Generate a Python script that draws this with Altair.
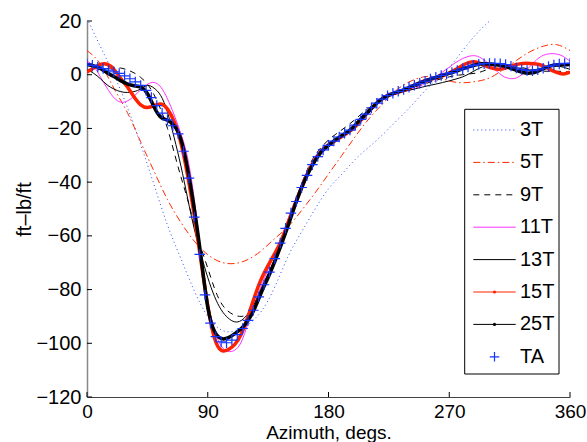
import altair as alt
import pandas as pd

FONT = "Liberation Sans"

# ---------------- data ----------------
AZ4 = list(range(0, 361, 4))
AZ5 = list(range(0, 361, 5))
AZ10 = list(range(0, 361, 10))

T3 = [21.0, 10.5, 0.0, -12.0, -26.0, -41.0, -56.0, -68.5, -80.5, -90.0,
      -95.0, -95.5, -93.0, -88.0, -79.0, -67.5, -58.5, -50.0, -42.5, -37.0,
      -31.5, -27.0, -22.5, -17.5, -12.5, -7.0, -2.0, 2.7, 9.0, 15.0,
      20.0, 24.0, 27.0, 28.0, 27.0, 24.5, 21.0]

T5 = [9.0, 4.0, -5.0, -14.0, -25.0, -36.0, -46.5, -55.0, -62.0, -67.0,
      -69.8, -70.3, -68.8, -65.5, -61.0, -56.5, -50.5, -44.0, -37.0, -30.0,
      -23.0, -16.5, -11.0, -6.0, -2.7, -0.9, -0.8, -2.3, -3.0, -2.5,
      -1.2, 1.8, 5.3, 8.5, 10.6, 11.2, 9.0]

T9 = [1.0, 1.5, 2.0, 2.4, 2.6, 2.5, 1.8, 0.7, -1.0, -3.5,
      -7.5, -13.0, -20.0, -29.0, -38.0, -46.5, -56.0, -64.5, -72.0, -79.5,
      -85.0, -88.0, -89.5, -90.0, -89.0, -86.0, -81.5, -75.5, -69.0, -62.0,
      -55.0, -47.5, -40.5, -34.5, -30.0, -26.8, -24.3, -22.3, -20.5, -18.6,
      -16.6, -14.4, -12.4, -10.6, -9.1, -7.9, -6.9, -6.1, -5.3, -4.5,
      -3.7, -2.9, -2.1, -1.4, -0.8, -0.3, 0.0, 0.3, 0.6, 1.3,
      2.3, 3.2, 3.8, 3.8, 3.3, 2.6, 2.0, 1.5, 1.3, 1.3,
      1.3, 1.2, 1.0]

T11 = [5.0, 3.2, -0.8, -5.0, -8.5, -10.2, -9.8, -8.0, -5.6, -3.6,
       -2.9, -4.6, -9.0, -15.0, -22.0, -31.0, -46.5, -66.5, -84.0, -95.0,
       -101.0, -103.0, -102.6, -99.5, -92.5, -85.0, -78.5, -72.5, -66.5, -60.5,
       -53.5, -47.0, -40.5, -35.0, -30.5, -27.5, -25.5, -24.0, -22.5, -21.0,
       -19.0, -16.5, -13.5, -10.5, -8.3, -7.0, -6.5, -6.3, -5.8, -5.0,
       -3.8, -2.3, -0.7, 1.0, 2.8, 4.6, 6.0, 6.9, 7.0, 5.8,
       3.8, 1.5, -0.5, -1.4, -1.2, 0.5, 3.0, 5.5, 7.2, 7.8,
       7.7, 6.8, 5.0]

T13 = [2.0, 0.5, -1.5, -3.8, -5.3, -6.3, -6.6, -6.3, -5.3, -4.0,
       -5.0, -7.8, -14.0, -23.5, -34.0, -46.0, -57.5, -67.0, -75.5, -82.5,
       -87.5, -90.5, -92.0, -91.5, -89.0, -85.0, -79.5, -74.0, -68.5, -62.5,
       -55.5, -48.5, -41.5, -36.0, -31.5, -28.5, -26.3, -24.5, -23.0, -21.3,
       -19.0, -16.3, -13.5, -11.0, -9.0, -7.8, -7.0, -6.4, -5.8, -5.2,
       -4.6, -4.0, -3.5, -2.9, -2.3, -1.6, -0.8, 0.4, 1.8, 3.0,
       3.8, 4.0, 3.8, 3.2, 2.6, 2.1, 1.8, 2.0, 2.5, 3.0,
       3.2, 2.8, 2.0]

T15 = [1.0, 2.5, 3.8, 3.9, 2.0, -1.3, -4.5, -8.2, -11.2, -12.2,
       -11.5, -10.9, -12.8, -17.5, -25.5, -37.5, -52.5, -69.5, -86.0, -98.0,
       -102.6, -102.4, -100.5, -96.5, -90.0, -82.5, -76.0, -71.0, -66.5, -61.5,
       -55.0, -48.3, -42.0, -36.2, -31.7, -28.3, -26.2, -24.6, -23.0, -21.4,
       -19.3, -16.5, -13.6, -11.0, -9.0, -7.6, -6.8, -6.0, -5.0, -3.7,
       -2.6, -1.8, -1.2, -0.4, 0.7, 2.0, 3.5, 4.6, 4.7, 3.8,
       2.7, 2.1, 2.2, 3.0, 3.8, 4.2, 4.2, 4.0, 3.3, 2.0,
       0.9, 0.3, 1.0]

T25 = [3.8, 3.3, 2.3, 0.7, -0.7, -2.2, -3.4, -4.1, -4.6, -7.0,
       -12.0, -15.8, -16.9, -19.0, -24.0, -35.0, -50.0, -68.0, -86.5, -95.5,
       -98.2, -98.0, -96.5, -94.5, -91.5, -87.0, -81.0, -75.5, -69.5, -63.0,
       -56.0, -48.7, -42.0, -36.5, -32.0, -28.5, -26.3, -24.3, -22.6, -21.0,
       -18.7, -16.0, -13.6, -11.0, -9.0, -7.6, -6.7, -5.8, -4.8, -3.7,
       -2.7, -1.8, -1.0, -0.2, 0.5, 1.3, 2.2, 3.0, 3.7, 4.1,
       4.0, 3.7, 3.3, 2.6, 1.6, 0.8, 0.6, 1.1, 2.2, 3.2,
       3.7, 3.7, 3.8]

TA = [4.0, 3.5, 2.9, 2.3, 1.7, 1.1, 0.5, -0.4, -1.5, -2.7,
      -4.0, -5.8, -8.5, -11.5, -14.3, -16.8, -19.0, -22.0, -28.5, -38.5,
      -53.0, -66.9, -82.0, -92.5, -97.5, -99.5, -99.8, -98.8, -96.8, -94.5,
      -91.5, -87.7, -82.7, -78.2, -73.5, -68.5, -62.7, -57.2, -51.5, -47.2,
      -42.0, -37.5, -33.5, -30.5, -28.0, -26.3, -24.7, -23.2, -21.8, -20.6,
      -18.8, -16.6, -14.7, -12.3, -10.6, -9.1, -7.8, -6.9, -6.2, -5.5,
      -4.7, -3.9, -3.2, -2.4, -1.6, -0.9, -0.3, 0.3, 0.8, 1.6,
      2.2, 2.9, 3.5, 3.9, 4.1, 4.2, 4.2, 4.1, 3.8, 3.2,
      2.5, 1.9, 1.6, 1.5, 1.8, 2.4, 3.1, 3.6, 4.0, 4.2,
      4.2]

SERIES = ["3T", "5T", "9T", "11T", "13T", "15T", "25T"]
SERIES_AZ = [AZ10, AZ10, AZ5, AZ5, AZ5, AZ5, AZ5]
SERIES_VAL = [T3, T5, T9, T11, T13, T15, T25]
COLORS = ["#2a4bff", "#ff2a00", "#000000", "#ff33ff", "#000000", "#ff2200", "#000000"]
DASHES = [[1, 3], [7, 3, 1.5, 3], [6, 5], None, None, None, None]
WIDTHS = [1.0, 1.0, 1.0, 1.0, 1.0, 3.5, 3.5]
TA_COLOR = "#1434ff"

X_TICKS = [0, 90, 180, 270, 360]
Y_TICKS = [-120, -100, -80, -60, -40, -20, 0, 20]

# ---------------- layout ----------------
W, H = 483, 376
xs = alt.Scale(domain=[0, 360], nice=False, zero=False)
ys = alt.Scale(domain=[-120, 20], nice=False, zero=False)

x_axis = alt.Axis(values=X_TICKS, title="Azimuth, degs.", grid=False,
                  ticks=False, tickSize=0, labelPadding=5, labelFlush=False,
                  labelOverlap=False, labelFont=FONT, labelFontSize=19,
                  labelColor="black", domainColor="#444444", domainWidth=1,
                  titleFont=FONT, titleFontSize=19, titleFontWeight="normal",
                  titleColor="black", titleX=W / 2, titleY=41,
                  titleBaseline="alphabetic", titleAlign="center")
y_axis = alt.Axis(values=Y_TICKS, title="ft–lb/ft", grid=False,
                  ticks=False, tickSize=0, labelPadding=6, labelFlush=False,
                  labelOverlap=False, labelFont=FONT, labelFontSize=20,
                  labelColor="black", domainColor="#888888", domainWidth=1.5,
                  titleFont=FONT, titleFontSize=20, titleFontWeight="normal",
                  titleColor="black", titleAngle=270, titleX=-57, titleY=H / 2,
                  titleBaseline="alphabetic", titleAlign="center")

layers = []

# inward ticks
xt = pd.DataFrame({"t": X_TICKS})
layers.append(alt.Chart(xt).mark_rule(color="black", strokeWidth=1).encode(
    x=alt.X("t:Q", scale=xs, axis=x_axis), y=alt.value(H), y2=alt.value(H - 5)))
yt = pd.DataFrame({"t": Y_TICKS})
layers.append(alt.Chart(yt).mark_rule(color="black", strokeWidth=1).encode(
    y=alt.Y("t:Q", scale=ys, axis=y_axis), x=alt.value(0), x2=alt.value(5)))

# series lines
for name, az, vals, col, dash, wd in zip(SERIES, SERIES_AZ, SERIES_VAL, COLORS, DASHES, WIDTHS):
    df = pd.DataFrame({"az": az, "val": vals})
    kw = dict(color=col, strokeWidth=wd, interpolate="natural", clip=True)
    if dash is not None:
        kw["strokeDash"] = dash
    layers.append(alt.Chart(df).mark_line(**kw).encode(
        x=alt.X("az:Q", scale=xs, axis=x_axis),
        y=alt.Y("val:Q", scale=ys, axis=y_axis)))

PLUS = "M-1,0H1M0,-1V1"
ta_df = pd.DataFrame({"az": AZ4, "val": TA})
layers.append(alt.Chart(ta_df).mark_point(shape=PLUS, filled=False, size=110,
                                           strokeWidth=1.2, color=TA_COLOR,
                                           opacity=1, clip=True).encode(
    x=alt.X("az:Q", scale=xs, axis=x_axis),
    y=alt.Y("val:Q", scale=ys, axis=y_axis)))

# legend (drawn in pixel space)
one = pd.DataFrame({"k": [0]})
LX0, LX1, LY0, LY1 = 377.7, 472, 88.3, 353
layers.append(alt.Chart(one).mark_rect(fill="white", stroke="black", strokeWidth=1).encode(
    x=alt.value(LX0), x2=alt.value(LX1), y=alt.value(LY0), y2=alt.value(LY1)))

ROW0, STEP = 109, 32.4
SX0, SX1, TX = 386.3, 428.7, 433
for i, (name, col, dash) in enumerate(zip(SERIES, COLORS, DASHES)):
    yr = ROW0 + i * STEP
    kw = dict(color=col, strokeWidth=1)
    if dash is not None:
        kw["strokeDash"] = dash
    layers.append(alt.Chart(one).mark_rule(**kw).encode(
        x=alt.value(SX0), x2=alt.value(SX1), y=alt.value(yr)))
    if name in ("15T", "25T"):
        layers.append(alt.Chart(one).mark_point(shape="circle", filled=True, size=10,
                                                color=col, opacity=1).encode(
            x=alt.value((SX0 + SX1) / 2), y=alt.value(yr)))
    layers.append(alt.Chart(one).mark_text(align="left", baseline="middle", font=FONT,
                                           fontSize=20, color="black", text=name).encode(
        x=alt.value(TX), y=alt.value(yr)))

yr = ROW0 + len(SERIES) * STEP
layers.append(alt.Chart(one).mark_point(shape=PLUS, filled=False, size=90, strokeWidth=1.2,
                                        color=TA_COLOR, opacity=1).encode(
    x=alt.value((SX0 + SX1) / 2), y=alt.value(yr)))
layers.append(alt.Chart(one).mark_text(align="left", baseline="middle", font=FONT,
                                       fontSize=20, color="black", text="TA").encode(
    x=alt.value(TX), y=alt.value(yr)))

chart = alt.layer(*layers).properties(
    width=W, height=H,
    autosize=alt.AutoSizeParams(type="none"),
    padding={"left": 87, "top": 21, "right": 17, "bottom": 45},
    background="white",
).configure_view(stroke=None)

chart.save("out.html", embed_options={"renderer": "svg", "actions": False})
